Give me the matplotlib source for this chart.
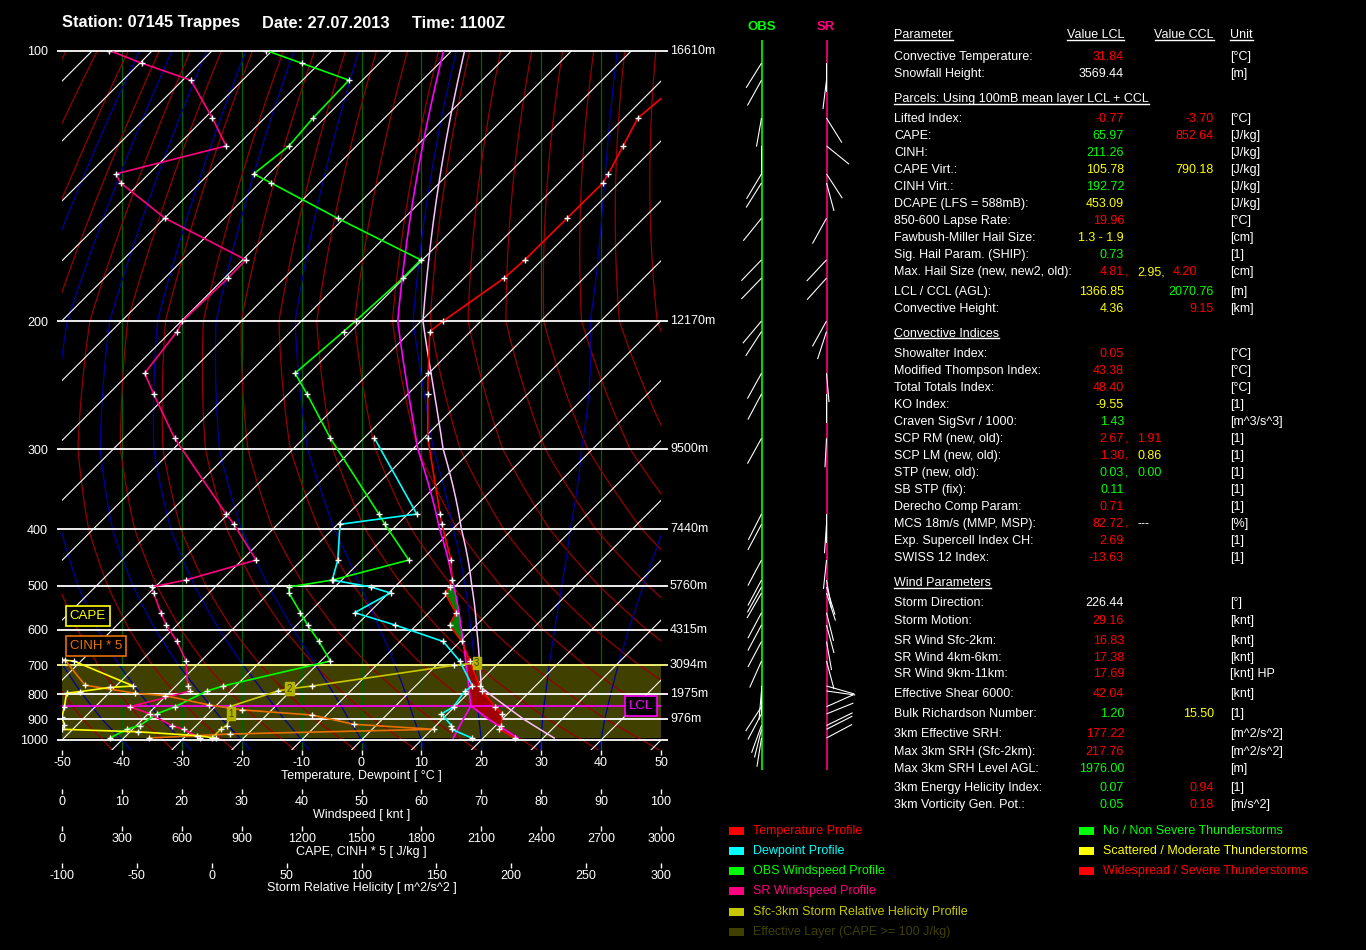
import numpy as np
import matplotlib
matplotlib.use("Agg")
from matplotlib import pyplot as plt
from matplotlib.patches import Rectangle
from matplotlib.lines import Line2D

plt.rcParams['font.family'] = ['Liberation Sans', 'DejaVu Sans']
plt.rcParams['font.size'] = 9
plt.rcParams['axes.unicode_minus'] = False

# ---------------- sounding Trappes 07145, 27.07.2013 11Z ----------------
pres = np.array([100, 103.3, 107.9, 118.9, 127.7, 137.2, 140.4, 153.7, 171.0, 179.2,
                 200, 206.8, 236, 252, 290, 378.7, 392.9, 451.4, 488.3, 502,
                 514.7, 558.5, 587.7, 630.9, 687, 770, 787.9, 848.1, 877.5, 928.9,
                 947, 990])
temp = np.array([-58.5, -57.5, -56.5, -57.7, -55.5, -53.3, -52.7, -52.8, -52.9, -53.3,
                 -56.3, -56.8, -50.1, -46.7, -39.3, -24.6, -22.6, -15.1, -11.6, -10.8,
                 -10.6, -5.5, -4.5, 0.3, 4.9, 10.7, 12.0, 16.7, 19.1, 20.9,
                 21.2, 25.3])
nan = np.nan
dewp = np.array([nan, nan, nan, nan, nan, nan, nan, nan, nan, nan,
                 nan, nan, nan, nan, -48.2, -28.5, -39.6, -34.0, -31.6, -24.0,
                 -19.7, -22.4, -13.6, -2.8, 3.2, 9.5, 9.1, 9.8, 9.0, 12.6,
                 13.3, 18.1])
ws_obs = np.array([34.1, 40, 47.9, 41.9, 37.9, 32, 34.9, 46, 59.9, 56.9,
                   49, 47, 38.9, 40.9, 44.8, 52.9, 53.9, 57.9, 45.2, 37.9,
                   37.9, 39.8, 41, 42.9, 44.8, 26.9, 24.2, 18.9, 15.8, 13.0,
                   10.8, 8.0])
ws_sr = np.array([7.9, 13.3, 21.5, 25.1, 27.4, 9.0, 9.8, 17.2, 30.7, 27.7,
                  20.1, 19.2, 13.8, 15.3, 18.8, 27.4, 28.7, 32.4, 20.7, 15.0,
                  15.3, 16.5, 17.4, 19.2, 20.7, 21.0, 21.4, 11.4, 14.7, 18.3,
                  20.3, 23.0])
dir_obs = np.array([nan, 212, 209, 190, 180, 211, 212, 219, 224, 224,
                    220, 213, 209, 208, 209, 207, 208, 208, 208, 209,
                    210, 208, 208, 208, 204, 180, 185, 213, 208, 200,
                    194, 189])
dir_sr = np.array([nan, 180, 187, 148, 129, 147, 165, 209, 223, 222,
                   209, 198, 175, 180, 183, 180, 184, 186, 170, 163,
                   162, 166, 165, 170, 165, 106, 98, 66, 68, 64,
                   63, 62])

# sfc-3km storm relative helicity (cumulative)
srh_p = np.array([990, 947, 929, 877.5, 848, 788, 780, 770, 700, 693])
srh_v = np.array([0, 6, 10, 13, 12, 44, 52, 67, 162, 177])
km_p = [877.5, 780, 693]
km_v = [13, 52, 177]
km_lbl = ['1', '2', '3']

# CAPE and CINH*5 of parcels lifted from each level
cape_p = np.array([684, 687, 770, 775, 790, 796, 848, 890, 927, 947, 959, 978, 990])
cape_v = np.array([0, 58, 357, 241, 92, 23, 12, 0, 12, 0, 379, 678, 770])
cin_p = np.array([684, 767, 796, 805, 841, 861, 882, 923, 947, 970, 990])
cin5_v = np.array([15, 115, 366, 516, 736, 900, 1253, 1460, 1863, 839, 437])

# mean layer parcel and convective temperature
p_sfc = 990.0
ml_t = 25.8
ml_td = 15.0
t_conv = 31.84
eff_bot, eff_top = 990, 700

lvl_p = [100, 200, 300, 400, 500, 600, 700, 800, 900, 1000]
lvl_h = ["16610m", "12170m", "9500m", "7440m", "5760m", "4315m", "3094m", "1975m", "976m", ""]

# ---------------- pressure scale of the diagram ----------------
P_CAL = np.array([100, 200, 300, 400, 500, 600, 700, 800, 900, 1000, 1050.])
Y_CAL = np.array([50.5, 321, 449, 529.3, 586, 630, 665.3, 694.3, 719.3, 740, 750.])
LNP = np.log(P_CAL)
S_TOP = (Y_CAL[1] - Y_CAL[0]) / (LNP[1] - LNP[0])
S_BOT = (Y_CAL[-1] - Y_CAL[-2]) / (LNP[-1] - LNP[-2])
PX_DEG = 5.99


def p2y(p):
    lp = np.log(np.clip(np.asarray(p, dtype=float), 1e-3, None))
    y = np.interp(lp, LNP, Y_CAL)
    y = np.where(lp < LNP[0], Y_CAL[0] + (lp - LNP[0]) * S_TOP, y)
    y = np.where(lp > LNP[-1], Y_CAL[-1] + (lp - LNP[-1]) * S_BOT, y)
    return y


def y2p(y):
    y = np.clip(np.asarray(y, dtype=float), -5000, 5000)
    lp = np.interp(y, Y_CAL, LNP)
    lp = np.where(y < Y_CAL[0], LNP[0] + (y - Y_CAL[0]) / S_TOP, lp)
    lp = np.where(y > Y_CAL[-1], LNP[-1] + (y - Y_CAL[-1]) / S_BOT, lp)
    return np.exp(lp)


def skew(p):
    return (p2y(1000) - p2y(p)) / PX_DEG


def ws_x(v):
    return np.asarray(v) - 50


def cape_x(v):
    return np.asarray(v) / 30.0 - 50


def srh_x(v):
    return (np.asarray(v) + 100) / 4.0 - 50


# ---------------- thermodynamics ----------------
KAPPA = 0.2857


def sat_vp(tc):
    return 6.112 * np.exp(17.67 * tc / (tc + 243.5))


def sat_mr(tc, p):
    e = sat_vp(tc)
    return 0.622 * e / (p - e)


def lapse(tk, p):
    rs = sat_mr(tk - 273.15, p)
    return (287.04 * tk + 2.501e6 * rs) / (1005.7 + 2.501e6 ** 2 * rs * 0.622 / (287.04 * tk ** 2)) / p


def moist_path(t0, p_arr):
    t = np.atleast_1d(np.asarray(t0, dtype=float)) + 273.15
    out = [t.copy()]
    for pa, pb in zip(p_arr[:-1], p_arr[1:]):
        h = pb - pa
        k1 = lapse(t, pa)
        k2 = lapse(t + 0.5 * h * k1, pa + 0.5 * h)
        k3 = lapse(t + 0.5 * h * k2, pa + 0.5 * h)
        k4 = lapse(t + h * k3, pb)
        t = t + h * (k1 + 2 * k2 + 2 * k3 + k4) / 6
        out.append(t.copy())
    return np.array(out) - 273.15


w_ml = sat_mr(ml_td, p_sfc)


def lift(t0):
    theta = (t0 + 273.15) * (1000 / p_sfc) ** KAPPA
    pp = np.arange(p_sfc, 300, -0.25)
    tt = theta * (pp / 1000) ** KAPPA - 273.15
    i = np.argmax(sat_mr(tt, pp) <= w_ml)
    return theta, pp[i], tt[i]


# ---------------- figure ----------------
W, H = 1366, 950
fig = plt.figure(figsize=(W / 100, H / 100), dpi=100, facecolor='black')
ax = fig.add_axes([62 / W, 1 - 750 / H, 599 / W, 699.5 / H], facecolor='black')
ax.set_yscale('function', functions=(p2y, y2p))
ax.set_xlim(-50, 50)
ax.set_ylim(1050, 100)
for s in ax.spines.values():
    s.set_visible(False)

# effective layer
ax.axhspan(eff_bot, eff_top, color='#404000', lw=0, zorder=0.5)

# background: windspeed grid, isotherms, dry and moist adiabats
for xv in range(-40, 41, 10):
    ax.axvline(xv, color='#006400', lw=0.9, zorder=1)
pg = np.geomspace(100, 1050, 150)
skg = skew(pg)
for t in range(-160, 51, 10):
    ax.plot(t + skew(np.array([1050, 100])), [1050, 100], color='white', lw=0.8, zorder=1.1)
for th in range(200, 430, 10):
    ax.plot(th * (pg / 1000) ** KAPPA - 273.15 + skg, pg, color='#960000', lw=0.9, zorder=1)
thw = np.arange(-40, 41, 10)
p_up = np.linspace(1000, 100, 361)
p_dn = np.linspace(1000, 1050, 11)
t_up = moist_path(thw, p_up)
t_dn = moist_path(thw, p_dn)
p_ma = np.concatenate([p_dn[::-1], p_up[1:]])
t_ma = np.concatenate([t_dn[::-1], t_up[1:]])
ax.plot(t_ma + skew(p_ma)[:, None], p_ma, color='#0000a0', lw=0.9, zorder=1)

# pressure levels
lvl_col = ['#ffff80' if p == eff_top else 'white' for p in lvl_p]
ax.hlines(lvl_p, -0.009, 1.012, transform=ax.get_yaxis_transform(), colors=lvl_col,
          lw=1.3, clip_on=False, zorder=1.5)
for p, h in zip(lvl_p, lvl_h):
    ax.text(1.015, p, h, transform=ax.get_yaxis_transform(), color='white',
            ha='left', va='center', fontsize=9)
ax.set_yticks(lvl_p, [str(p) for p in lvl_p])
ax.tick_params(axis='y', length=0, pad=10, labelcolor='white', labelsize=9)

# parcels
theta_l, p_lcl, t_lcl = lift(ml_t)
theta_c, p_ccl, t_ccl = lift(t_conv)
p_d = np.linspace(p_sfc, p_lcl, 40)
t_d = theta_l * (p_d / 1000) ** KAPPA - 273.15
p_m = np.linspace(p_lcl, 100, 400)
t_m = moist_path(t_lcl, p_m)[:, 0]
e_w = w_ml * p_d / (0.622 + w_ml)
ln_e = np.log(e_w / 6.112)
td_w = 243.5 * ln_e / (17.67 - ln_e)
p_dc = np.linspace(p_sfc, p_ccl, 40)
t_dc = theta_c * (p_dc / 1000) ** KAPPA - 273.15
p_mc = np.linspace(p_ccl, 100, 400)
t_mc = moist_path(t_ccl, p_mc)[:, 0]

# CAPE / CIN areas between parcel and environment
p_f = np.linspace(500, p_sfc, 500)
env_f = np.interp(np.log(p_f), np.log(pres), temp)
par_f = np.where(p_f >= p_lcl, theta_l * (p_f / 1000) ** KAPPA - 273.15,
                 np.interp(p_f, p_m[::-1], t_m[::-1]))
sk_f = skew(p_f)
ax.fill_betweenx(p_f, env_f + sk_f, par_f + sk_f, where=(par_f > env_f) & (p_f < p_lcl),
                 interpolate=True, color='#008000', lw=0, zorder=2)
ax.fill_betweenx(p_f, env_f + sk_f, par_f + sk_f, where=env_f > par_f,
                 interpolate=True, color='#a00000', lw=0, zorder=2)

ax.axhline(p_lcl, color='#ff00ff', lw=1.2, zorder=2.2)
ax.plot(t_dc + skew(p_dc), p_dc, color='#ffc0ff', lw=1.1, zorder=3)
ax.plot(t_mc + skew(p_mc), p_mc, color='#ffc0ff', lw=1.1, zorder=3)
ax.plot(t_d + skew(p_d), p_d, color='#ff00ff', lw=1.2, zorder=3.1)
ax.plot(td_w + skew(p_d), p_d, color='#ff00ff', lw=1.2, zorder=3.1)
ax.plot(t_m + skew(p_m), p_m, color='#ff00ff', lw=1.2, zorder=3.1)

# profiles
sk_l = skew(pres)
mk = dict(ls='none', marker='+', color='white', ms=5, mew=1, zorder=6)
profiles = [
    (ws_x(ws_obs), pres, '#00ff00'),
    (ws_x(ws_sr), pres, '#ff0080'),
    (cape_x(cin5_v), cin_p, '#e87000'),
    (cape_x(cape_v), cape_p, '#ffff00'),
    (srh_x(srh_v), srh_p, '#c8c800'),
    (dewp + sk_l, pres, '#00ffff'),
    (temp + sk_l, pres, '#ff0000'),
]
for xs, ps, c in profiles:
    ax.plot(xs, ps, color=c, lw=1.2, zorder=4)
    ax.plot(xs, ps, **mk)
for p, v, s in zip(km_p, km_v, km_lbl):
    ax.text(srh_x(v), p, s, fontsize=7, color='#404000', ha='center', va='center', zorder=7,
            bbox=dict(boxstyle='square,pad=0.15', fc='#b4b400', ec='#b4b400'))

# boxes
ax.text(0.013, 0.191, 'CAPE', transform=ax.transAxes, color='#ffff00', fontsize=9.5,
        va='center', bbox=dict(boxstyle='square,pad=0.3', fc='black', ec='#ffff00', lw=1.2))
ax.text(0.013, 0.149, 'CINH * 5', transform=ax.transAxes, color='#e87000', fontsize=9.5,
        va='center', bbox=dict(boxstyle='square,pad=0.3', fc='black', ec='#e87000', lw=1.2))
ax.text(0.966, p_lcl, 'LCL', transform=ax.get_yaxis_transform(), color='#ff00ff', fontsize=9.5,
        ha='center', va='center', zorder=7,
        bbox=dict(boxstyle='square,pad=0.3', fc='black', ec='#ff00ff', lw=1.2))

# bottom scales
tick_kw = dict(direction='out', length=3.4, width=1, color='white', labelcolor='white',
               labelsize=9, pad=1.5)
ax.set_xticks(range(-50, 51, 10))
ax.tick_params(axis='x', **tick_kw)
scales = [
    (-0.0557, (lambda x: x + 50, lambda v: v - 50), range(0, 101, 10)),
    (-0.1091, (lambda x: (x + 50) * 30, lambda v: v / 30 - 50), range(0, 3001, 300)),
    (-0.1620, (lambda x: (x + 50) * 4 - 100, lambda v: (v + 100) / 4 - 50), range(-100, 301, 50)),
]
for loc, funcs, ticks in scales:
    sec = ax.secondary_xaxis(loc, functions=funcs)
    sec.set_xticks(list(ticks))
    sec.tick_params(axis='x', **tick_kw)
    sec.spines['bottom'].set_visible(False)


def px(x, y):
    return x / W, 1 - y / H


ax_titles = ["Temperature, Dewpoint [ °C ]", "Windspeed [ knt ]", "CAPE, CINH * 5 [ J/kg ]",
             "Storm Relative Helicity [ m^2/s^2 ]"]
for s, y in zip(ax_titles, [776, 815, 852, 888]):
    fig.text(*px(361.5, y), s, color='white', ha='center', va='center', fontsize=9)

# title
for s, x in zip(["Station: 07145 Trappes", "Date: 27.07.2013", "Time: 1100Z"], [62, 262, 412]):
    fig.text(*px(x, 23), s, color='white', fontsize=11.8, fontweight='bold', va='center')

# ---------------- wind direction columns ----------------
axw = fig.add_axes([700 / W, 1 - 770 / H, 180 / W, 730 / H])
axw.set_yscale('function', functions=(p2y, y2p))
axw.set_xlim(0, 180)
axw.set_ylim(y2p(770), y2p(40))
axw.axis('off')
X_OBS, X_SR = 61.5, 126.5
axw.axvline(X_OBS, color='#00ff00', lw=1.2)
axw.axvline(X_SR, color='#ff0080', lw=1.2)
for xc, d in [(X_OBS, dir_obs), (X_SR, dir_sr)]:
    ok = np.isfinite(d)
    r = np.radians(d[ok])
    axw.quiver(np.full(ok.sum(), xc), pres[ok], 29 * np.sin(r), 29 * np.cos(r),
               angles='uv', scale_units='dots', scale=1, units='dots', width=1.1,
               headwidth=0, headlength=0, headaxislength=0, color='white', zorder=5)
fig.text(*px(762, 27), 'OBS', color='#00ff00', fontsize=9.5, fontweight='bold', ha='center', va='center')
fig.text(*px(826, 27), 'SR', color='#ff0080', fontsize=9.5, fontweight='bold', ha='center', va='center')

# ---------------- parameter table ----------------
COL = {'R': '#ff0000', 'G': '#00ff00', 'Y': '#ffff00', 'W': '#ffffff'}
X_NAME, X_LCL, X_CCL, X_UNIT = 894, 1124, 1214, 1230

a_name = ["Convective Temperature:", "Snowfall Height:"]
a_lcl = ["31.84", "3569.44"]
a_lcl_c = ["R", "W"]
a_ccl = ["", ""]
a_ccl_c = ["", ""]
a_unit = ["[°C]", "[m]"]

b_name = ["Lifted Index:", "CAPE:", "CINH:", "CAPE Virt.:", "CINH Virt.:", "DCAPE (LFS = 588mB):",
          "850-600 Lapse Rate:", "Fawbush-Miller Hail Size:", "Sig. Hail Param. (SHIP):",
          "Max. Hail Size (new, new2, old):", "LCL / CCL (AGL):", "Convective Height:"]
b_lcl = ["-0.77", "65.97", "211.26", "105.78", "192.72", "453.09", "19.96", "1.3 - 1.9", "0.73",
         "4.81, 2.95, 4.20", "1366.85", "4.36"]
b_lcl_c = ["R", "G", "G", "Y", "G", "Y", "R", "Y", "G", "RYR", "Y", "Y"]
b_ccl = ["-3.70", "852.64", "", "790.18", "", "", "", "", "", "", "2070.76", "9.15"]
b_ccl_c = ["R", "R", "", "Y", "", "", "", "", "", "", "G", "R"]
b_unit = ["[°C]", "[J/kg]", "[J/kg]", "[J/kg]", "[J/kg]", "[J/kg]", "[°C]", "[cm]", "[1]", "[cm]",
          "[m]", "[km]"]

c_name = ["Showalter Index:", "Modified Thompson Index:", "Total Totals Index:", "KO Index:",
          "Craven SigSvr / 1000:", "SCP RM (new, old):", "SCP LM (new, old):", "STP (new, old):",
          "SB STP (fix):", "Derecho Comp Param:", "MCS 18m/s (MMP, MSP):",
          "Exp. Supercell Index CH:", "SWISS 12 Index:"]
c_lcl = ["0.05", "43.38", "48.40", "-9.55", "1.43", "2.67, 1.91", "1.30, 0.86", "0.03, 0.00",
         "0.11", "0.71", "82.72, ---", "2.69", "-13.63"]
c_lcl_c = ["R", "R", "R", "Y", "G", "RR", "RY", "GG", "G", "R", "RW", "R", "R"]
c_ccl = [""] * 13
c_ccl_c = [""] * 13
c_unit = ["[°C]", "[°C]", "[°C]", "[1]", "[m^3/s^3]", "[1]", "[1]", "[1]", "[1]", "[1]", "[%]",
          "[1]", "[1]"]

d_name = ["Storm Direction:", "Storm Motion:", "SR Wind Sfc-2km:", "SR Wind 4km-6km:",
          "SR Wind 9km-11km:", "Effective Shear 6000:", "Bulk Richardson Number:",
          "3km Effective SRH:", "Max 3km SRH (Sfc-2km):", "Max 3km SRH Level AGL:",
          "3km Energy Helicity Index:", "3km Vorticity Gen. Pot.:"]
d_lcl = ["226.44", "29.16", "16.83", "17.38", "17.69", "42.04", "1.20", "177.22", "217.76",
         "1976.00", "0.07", "0.05"]
d_lcl_c = ["W", "R", "R", "R", "R", "R", "G", "R", "R", "G", "G", "G"]
d_ccl = ["", "", "", "", "", "", "15.50", "", "", "", "0.94", "0.18"]
d_ccl_c = ["", "", "", "", "", "", "Y", "", "", "", "R", "R"]
d_unit = ["[°]", "[knt]", "[knt]", "[knt]", "[knt] HP", "[knt]", "[1]", "[m^2/s^2]", "[m^2/s^2]",
          "[m]", "[1]", "[m/s^2]"]

a_y = [57.3, 74.3]
b_y = [119.3, 136.3, 153.3, 170.3, 187.3, 204.3, 221.3, 238.3, 255.3, 272.3, 292.3, 309.3]
c_y = [354 + 17 * i for i in range(13)]
d_y = [603.3, 620.7, 640.7, 657.7, 674.3, 694.3, 714.3, 734.3, 751.7, 768.7, 788.3, 805.3]


def tx(x, y, s, color='white', ha='left'):
    return fig.text(*px(x, y), s, color=color, ha=ha, va='center', fontsize=9)


def value_cell(y, s, cols):
    if not s:
        return
    parts = s.split(', ')
    tx(X_LCL, y, parts[0], COL[cols[0]], 'right')
    if len(parts) > 1:
        tx(X_LCL + 0.5, y, ',', COL[cols[0]])
        tx(1137, y, parts[1] + (',' if len(parts) > 2 else ''), COL[cols[1]])
    if len(parts) > 2:
        tx(1173, y, parts[2], COL[cols[2]])


sections = [
    (a_y, a_name, a_lcl, a_lcl_c, a_ccl, a_ccl_c, a_unit),
    (b_y, b_name, b_lcl, b_lcl_c, b_ccl, b_ccl_c, b_unit),
    (c_y, c_name, c_lcl, c_lcl_c, c_ccl, c_ccl_c, c_unit),
    (d_y, d_name, d_lcl, d_lcl_c, d_ccl, d_ccl_c, d_unit),
]
for ys, names, lv, lc, cv, cc, units in sections:
    for y, n, v1, c1, v2, c2, u in zip(ys, names, lv, lc, cv, cc, units):
        tx(X_NAME, y, n)
        value_cell(y, v1, c1)
        if v2:
            tx(X_CCL, y, v2, COL[c2], 'right')
        tx(X_UNIT, y, u)

heads = [tx(X_NAME, 35, "Parameter"), tx(X_LCL, 35, "Value LCL", ha='right'),
         tx(X_CCL, 35, "Value CCL", ha='right'), tx(X_UNIT, 35, "Unit"),
         tx(X_NAME, 99.3, "Parcels: Using 100mB mean layer LCL + CCL"),
         tx(X_NAME, 334, "Convective Indices"), tx(X_NAME, 583.3, "Wind Parameters")]
rend = fig.canvas.get_renderer()
for t in heads:
    bb = t.get_window_extent(rend)
    yl = (bb.y0 + 1.5) / H
    fig.add_artist(Line2D([bb.x0 / W, bb.x1 / W], [yl, yl], transform=fig.transFigure,
                          color='white', lw=1))

# ---------------- legend ----------------
leg1_txt = ["Temperature Profile", "Dewpoint Profile", "OBS Windspeed Profile", "SR Windspeed Profile",
            "Sfc-3km Storm Relative Helicity Profile", "Effective Layer (CAPE >= 100 J/kg)"]
leg1_col = ['#ff0000', '#00ffff', '#00ff00', '#ff0080', '#c8c800', '#404000']
leg2_txt = ["No / Non Severe Thunderstorms", "Scattered / Moderate Thunderstorms",
            "Widespread / Severe Thunderstorms"]
leg2_col = ['#00ff00', '#ffff00', '#ff0000']
leg1_y = [831, 851, 871, 891, 911.5, 931.5]
for xr, xt, txts, cols in [(729, 753, leg1_txt, leg1_col), (1079, 1103, leg2_txt, leg2_col)]:
    for s, c, y in zip(txts, cols, leg1_y):
        fig.add_artist(Rectangle(px(xr, y + 4), 15 / W, 8 / H, transform=fig.transFigure,
                                 color=c, lw=0))
        tx(xt, y, s, c)

fig.savefig("out.png", dpi=100, facecolor='black')
